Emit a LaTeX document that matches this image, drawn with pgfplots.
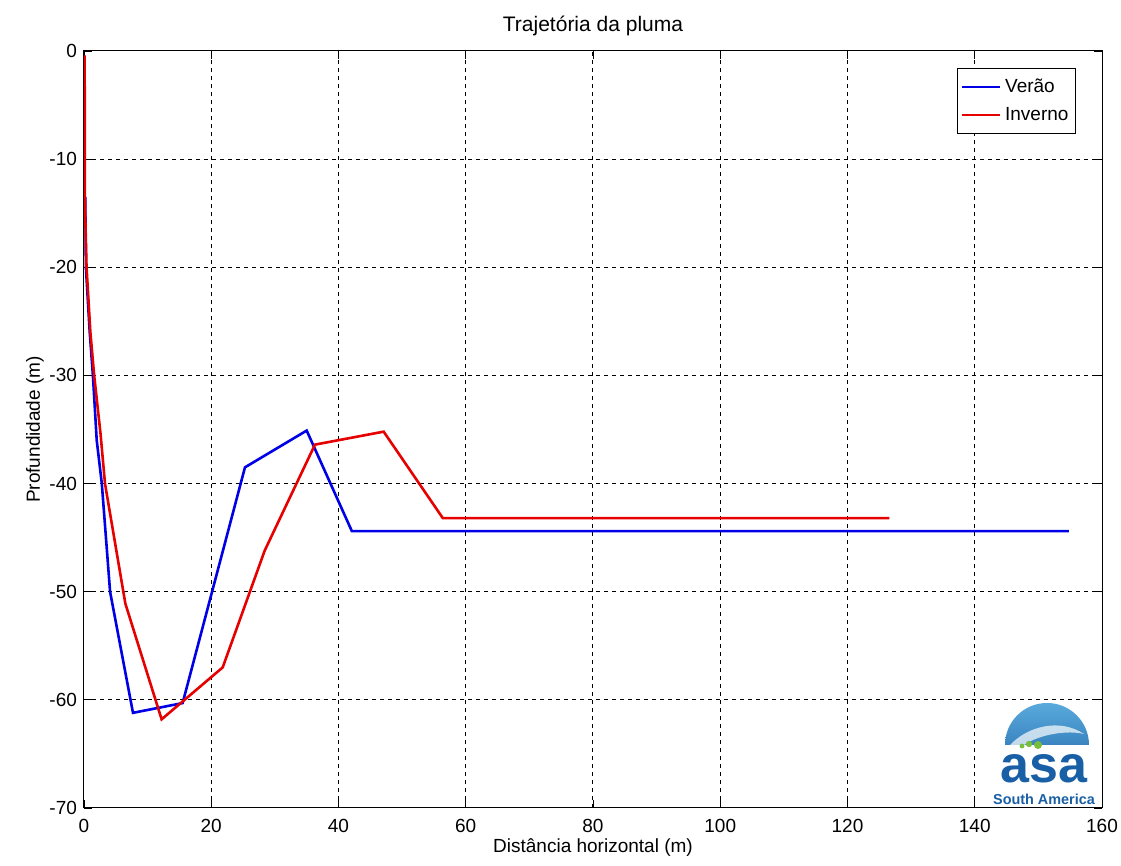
\documentclass[border=0pt]{standalone}
\usepackage{pgfplots}
\pgfplotsset{compat=1.18}
\usepackage{fontspec}
\setmainfont{Liberation Sans}
\definecolor{mblue}{RGB}{0,0,230}
\definecolor{mred}{RGB}{230,0,0}
\definecolor{asablue}{RGB}{25,95,165}
\definecolor{asalight}{RGB}{90,170,220}
\definecolor{asagreen}{RGB}{120,190,60}
\begin{document}
\begin{tikzpicture}
\begin{axis}[
  scale only axis,
  width=509pt, height=378.5pt,
  xmin=0, xmax=160, ymin=-70, ymax=0,
  xtick={0,20,...,160}, ytick={-70,-60,...,0},
  tick align=inside,
  tick style={black, line width=0.4pt},
  major tick length=4pt,
  axis line style={black, line width=0.5pt},
  grid=major,
  grid style={black, line width=0.5pt, dash pattern=on 2pt off 2pt},
  ticklabel style={font=\fontsize{9.5}{11}\selectfont},
  /pgf/number format/assume math mode=true,
  xticklabel style={yshift=-2pt},
  title={Trajetória da pluma},
  title style={font=\fontsize{10.5}{12}\selectfont, yshift=-2pt},
  xlabel={Distância horizontal (m)},
  ylabel={Profundidade (m)},
  label style={font=\fontsize{9.5}{11}\selectfont},
  xlabel style={yshift=4pt},
  ylabel style={yshift=-4pt},
  legend style={at={(1,1)}, anchor=north east, xshift=-13pt, yshift=-8.5pt,
    font=\fontsize{9.5}{11}\selectfont, draw=black, line width=0.5pt,
    inner xsep=1.5pt, inner ysep=3pt, row sep=2pt},
  legend cell align=left,
  legend image code/.code={\draw[#1, line width=1.2pt] (0pt,0pt) -- (19pt,0pt);},
]
\addplot[mblue, line width=1.3pt] coordinates {
(0.2,-13.5) (0.3,-20) (0.9,-26) (1.4,-30) (2.0,-36) (2.8,-40) (4.1,-50)
(7.7,-61.2) (15.5,-60.3) (25.3,-38.5) (35.0,-35.1) (42.1,-44.4) (154.8,-44.4)};
\addlegendentry{Verão}
\addplot[mred, line width=1.3pt] coordinates {
(0.1,-0.4) (0.15,-14) (0.4,-20) (1.0,-26) (1.6,-30) (2.6,-35.4) (3.3,-40)
(6.5,-51.1) (12.2,-61.8) (21.8,-57.0) (28.4,-46.2) (36.3,-36.4) (47.1,-35.2)
(56.4,-43.2) (126.6,-43.2)};
\addlegendentry{Inverno}
\end{axis}
% logo (decorative)
\begin{scope}
\clip (460pt,31.5pt) rectangle (503pt,54pt);
\shade[top color=asalight, bottom color=asablue] (481.5pt,31.5pt) circle (21pt);
\end{scope}
\fill[white, opacity=0.7] (463pt,31.5pt) .. controls (472pt,41pt) and (488pt,45pt) .. (500pt,37pt) .. controls (492pt,39pt) and (478pt,37pt) .. (470pt,31.5pt) -- cycle;
\fill[asagreen] (469pt,31pt) circle (1.2pt) (472.5pt,32pt) circle (1.6pt) (477pt,31.5pt) circle (2pt);
\node[asablue, font=\fontsize{26}{26}\selectfont\bfseries, inner sep=0pt, anchor=base] at (480pt,12.5pt) {asa};
\node[asablue, font=\fontsize{7.2}{8}\selectfont\bfseries, inner sep=0pt, anchor=base] at (480pt,1.5pt) {South America};
\pgfresetboundingbox
\useasboundingbox (-42pt,-29pt) rectangle (518.5pt,404pt);
\end{tikzpicture}
\end{document}
